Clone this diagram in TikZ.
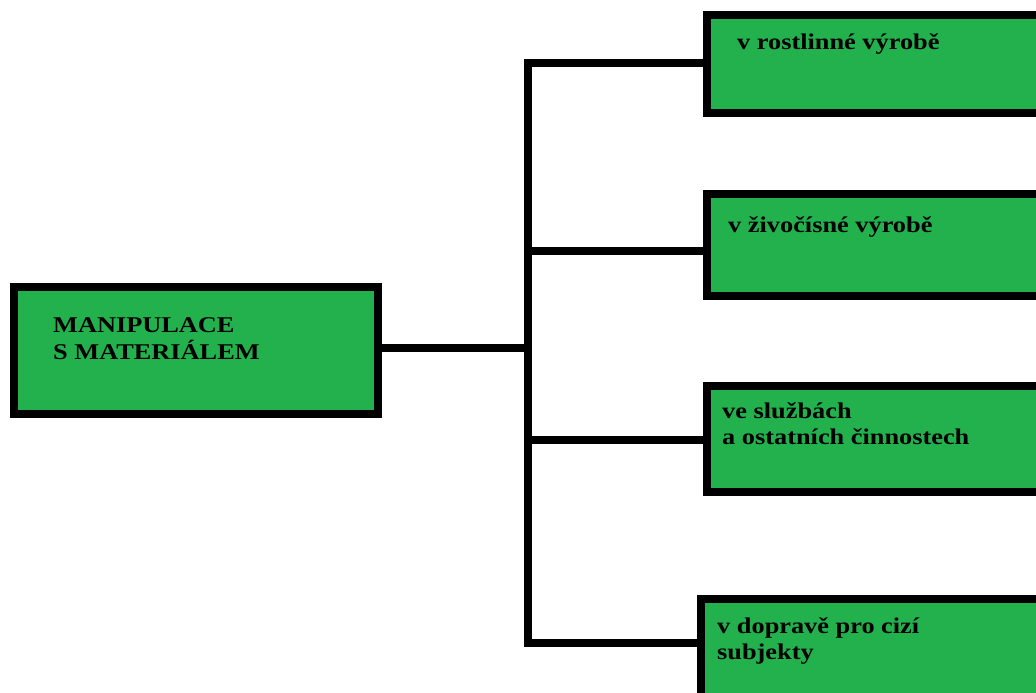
\documentclass[tikz,border=0pt]{standalone}
\usepackage{fontspec}
\setmainfont{Liberation Serif}[FakeStretch=1.17]
\definecolor{boxgreen}{RGB}{34,177,76}
\begin{document}
\begin{tikzpicture}[x=1pt,y=-1pt,
  box/.style={draw=black,line width=8pt,fill=boxgreen,rectangle,inner sep=0pt,outer sep=0pt,anchor=north west},
  lbl/.style={anchor=base west,inner sep=0pt,font=\fontsize{22.5}{26}\selectfont\bfseries},
  conn/.style={draw=black,line width=8pt,line join=miter,line cap=rect}]
\useasboundingbox (0,0) rectangle (1036,693);
\clip (0,0) rectangle (1036,693);
\fill[white] (0,0) rectangle (1036,693);
% boxes
\node[box,minimum width=364pt,minimum height=127pt] (main) at (14,287) {};
\node[box,minimum width=360pt,minimum height=98pt] (b1) at (707,15) {};
\node[box,minimum width=360pt,minimum height=102pt] (b2) at (707,194) {};
\node[box,minimum width=360pt,minimum height=106pt] (b3) at (707,386) {};
\node[box,minimum width=366pt,minimum height=120pt] (b4) at (701,599) {};
% labels
\node[lbl] (t0) at (53,332) {\begin{tabular}[t]{@{}l@{}}MANIPULACE\\S MATERIÁLEM\end{tabular}};
\node[lbl] (t1) at (737,50) {v rostlinné výrobě};
\node[lbl] (t2) at (728,232) {v živočísné výrobě};
\node[lbl] (t3) at (722,418) {\begin{tabular}[t]{@{}l@{}}ve službách\\a ostatních činnostech\end{tabular}};
\node[lbl] (t4) at (717,633) {\begin{tabular}[t]{@{}l@{}}v dopravě pro cizí\\subjekty\end{tabular}};
% junctions on the spine
\coordinate (j0) at (528,348);
\coordinate (j1) at (528,63);
\coordinate (j2) at (528,251);
\coordinate (j3) at (528,440);
\coordinate (j4) at (528,643);
% connectors
\draw[conn] (j1 -| b1.west) -- (j1) -- (j4) -- (j4 -| b4.west);
\draw[conn] (j0 -| main.east) -- (j0);
\draw[conn] (j2) -- (j2 -| b2.west);
\draw[conn] (j3) -- (j3 -| b3.west);
\end{tikzpicture}
\end{document}
